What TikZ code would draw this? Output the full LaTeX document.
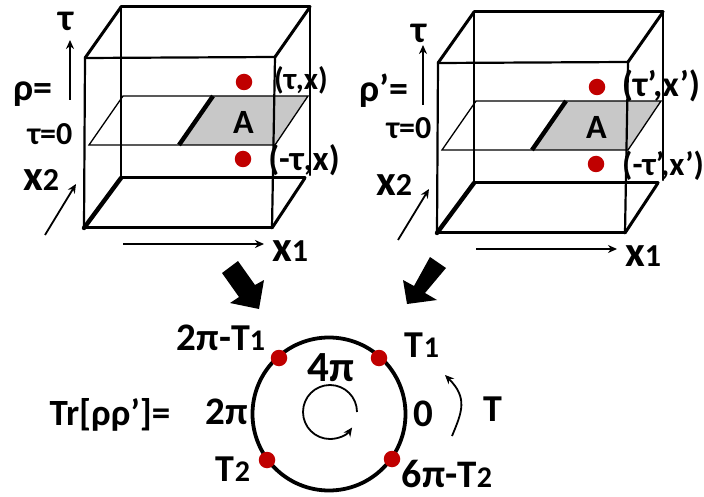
\documentclass[tikz,border=0pt]{standalone}
\usepackage{fontspec}
\setmainfont{Carlito}
\usetikzlibrary{arrows.meta}
\newcommand{\fsz}[1]{\fontsize{#1}{#1}\selectfont\bfseries}
\newcommand{\xlab}[1]{{\fsz{43}x}{\fsz{32}#1}}
\newcommand{\tlab}[2][38]{{\fsz{#1}T}{\fsz{30}#2}}
\tikzset{
  lab/.style={inner sep=0pt,font=\fsz{34},text=black},
  reddot/.style={circle,fill=dotred,draw=none,minimum size=16.5pt,inner sep=0pt},
  ed/.style={line width=2.2pt,line cap=round},
  edthick/.style={line width=3pt,line cap=round},
  edheavy/.style={line width=4.4pt,line cap=round},
  planeline/.style={line width=1.3pt},
  axis/.style={line width=1.8pt,-{Stealth[length=9pt,width=8pt]}},
  bigarrow/.style={fill=black,draw=none}
}
\definecolor{dotred}{RGB}{192,0,0}
\definecolor{planegray}{RGB}{200,200,200}
\newcommand{\cube}[3]{%
 \begin{scope}[shift={(#2,#3)}]
  \coordinate (#1ftl) at (85,58);
  \coordinate (#1ftr) at (275,57);
  \coordinate (#1fbl) at (84,228);
  \coordinate (#1fbr) at (272,228);
  \coordinate (#1btl) at (121,7);
  \coordinate (#1btr) at (310,7);
  \coordinate (#1bbl) at (121,178);
  \coordinate (#1bbr) at (305,178);
  \coordinate (#1bbv) at (310,175);
  \coordinate (#1pa) at (123,96);
  \coordinate (#1pb) at (308,96);
  \coordinate (#1pc) at (275,145);
  \coordinate (#1pd) at (89,145);
  \coordinate (#1sa) at (213,96);
  \coordinate (#1sb) at (179,145);
  \fill[planegray] (#1sa) -- (#1pb) -- (#1pc) -- (#1sb) -- cycle;
  \draw[planeline] (#1pa) -- (#1pb) -- (#1pc) -- (#1pd) -- cycle;
  \draw[edheavy,line cap=butt] (#1sa) -- (#1sb);
  \draw[ed] (#1ftl) -- (#1fbl);
  \draw[ed] (#1ftr) -- (#1fbr);
  \draw[ed] (#1btl) -- (#1bbl);
  \draw[ed] (#1btr) -- (#1bbv);
  \draw[ed] (#1ftl) -- (#1ftr);
  \draw[edthick] (#1btl) -- (#1btr);
  \draw[edthick] (#1ftl) -- (#1btl);
  \draw[edthick] (#1ftr) -- (#1btr);
  \draw[edthick] (#1fbl) -- (#1fbr);
  \draw[edthick] (#1bbl) -- (#1bbr);
  \draw[edheavy] (#1fbl) -- (#1bbl);
  \draw[edthick] (#1fbr) -- (#1bbr);
  \node[lab] (#1A) at (243.5,122) {A};
  \node[reddot] (#1du) at (244,82) {};
  \node[reddot] (#1dd) at (243,159) {};
  \coordinate (#1ua) at (70,100);
  \coordinate (#1ub) at (70,40);
  \coordinate (#1xa) at (123,244);
  \coordinate (#1xb) at (264,244);
  \coordinate (#1za) at (45,235);
  \coordinate (#1zb) at (76,184);
  \draw[axis] (#1ua) -- (#1ub);
  \draw[axis] (#1xa) -- (#1xb);
  \draw[axis] (#1za) -- (#1zb);
  \node[lab] (#1xtwo) at (41,180) {\xlab{2}};
  \node[lab] (#1xone) at (290,251) {\xlab{1}};
 \end{scope}}
\begin{document}
\begin{tikzpicture}[x=1pt,y=-1pt]
\useasboundingbox (0,0) rectangle (704,497);
\cube{l}{0}{0}
\cube{r}{353}{5}
\node[lab,font=\fsz{38}] (ltau) at (66,21) {τ};
\node[lab,font=\fsz{38}] (rtau) at (419,33) {τ};
\node[lab,font=\fsz{32}] (ltz) at (50,134) {τ=0};
\node[lab,font=\fsz{32}] (rtz) at (409,128) {τ=0};
\node[lab,font=\fsz{38}] (rho) at (33,94) {ρ=};
\node[lab,font=\fsz{38}] (rhop) at (384,91) {ρ'=};
\node[lab,font=\fsz{31}] (tx) at (301,80) {(τ,x)};
\node[lab,font=\fsz{35}] (mtx) at (304,160) {(-τ,x)};
\node[lab,font=\fsz{36}] (tpx) at (661,86) {(τ’,x’)};
\node[lab,font=\fsz{33},anchor=west] (mtpx) at (622,166) {(-τ’,x’)};
% big arrows
\fill[bigarrow] (222,273) -- (238,261) -- (255,285) -- (264,280) -- (259,309) -- (230,303) -- (239,297) -- cycle;
\fill[bigarrow] (430,257) -- (446,268) -- (425,293) -- (437,300) -- (407,304) -- (403,280) -- (414,286) -- cycle;
% circle
\coordinate (cc) at (329,414);
\draw[line width=3.8pt] (cc) circle[radius=76.5];
\node[reddot] (d1) at (379,358) {};
\node[reddot] (d2) at (279,358) {};
\node[reddot] (d3) at (267,460) {};
\node[reddot] (d4) at (392,459) {};
\draw[axis] (357,412) arc[start angle=0,end angle=-325,radius=27];
\coordinate (ta) at (452,436);
\coordinate (tb) at (445,375);
\draw[axis] (ta) .. controls (462,412) and (468,398) .. (tb);
\node[lab,font=\fsz{37}] (trr) at (110,415) {Tr[ρρ’]=};
\node[lab,font=\fsz{39}] (two) at (227,412) {2π};
\node[lab,font=\fsz{43}] (four) at (331,368) {4π};
\node[lab,font=\fsz{39}] (zero) at (423,414) {0};
\node[lab,font=\fsz{38}] (tt) at (493,409) {T};
\node[lab] (tm) at (221,338) {{\fsz{39}2π-}\tlab{1}};
\node[lab] (t1) at (422,345) {\tlab{1}};
\node[lab] (t2) at (233,469) {\tlab{2}};
\node[lab] (t6) at (447,474) {{\fsz{40}6π-}\tlab[39]{2}};
\end{tikzpicture}
\end{document}
